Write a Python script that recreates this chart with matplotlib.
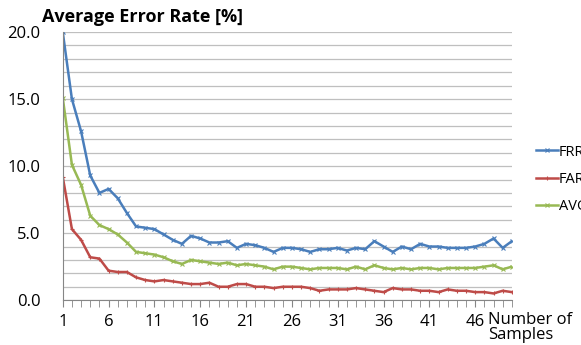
import matplotlib.pyplot as plt
import numpy as np

plt.rcParams['font.family'] = ['Open Sans', 'DejaVu Sans']

samples = np.arange(1, 51)  # number of samples 1..50

# error rates [%]
frr = [20.0, 15.0, 12.6, 9.3, 8.0, 8.3, 7.6, 6.5, 5.5, 5.4,
       5.3, 4.9, 4.5, 4.2, 4.8, 4.6, 4.3, 4.3, 4.4, 3.9,
       4.2, 4.1, 3.9, 3.6, 3.9, 3.9, 3.8, 3.6, 3.8, 3.8,
       3.9, 3.7, 3.9, 3.8, 4.4, 4.0, 3.6, 4.0, 3.8, 4.2,
       4.0, 4.0, 3.9, 3.9, 3.9, 4.0, 4.2, 4.6, 3.9, 4.4]
far = [9.2, 5.3, 4.5, 3.2, 3.1, 2.2, 2.1, 2.1, 1.7, 1.5,
       1.4, 1.5, 1.4, 1.3, 1.2, 1.2, 1.3, 1.0, 1.0, 1.2,
       1.2, 1.0, 1.0, 0.9, 1.0, 1.0, 1.0, 0.9, 0.7, 0.8,
       0.8, 0.8, 0.9, 0.8, 0.7, 0.6, 0.9, 0.8, 0.8, 0.7,
       0.7, 0.6, 0.8, 0.7, 0.7, 0.6, 0.6, 0.5, 0.7, 0.6]
avg = [15.1, 10.1, 8.6, 6.3, 5.6, 5.3, 4.9, 4.3, 3.6, 3.5,
       3.4, 3.2, 2.9, 2.7, 3.0, 2.9, 2.8, 2.7, 2.8, 2.6,
       2.7, 2.6, 2.5, 2.3, 2.5, 2.5, 2.4, 2.3, 2.4, 2.4,
       2.4, 2.3, 2.5, 2.3, 2.6, 2.4, 2.3, 2.4, 2.3, 2.4,
       2.4, 2.3, 2.4, 2.4, 2.4, 2.4, 2.5, 2.6, 2.3, 2.5]

fig = plt.figure(figsize=(5.81, 3.45), dpi=100)
ax = fig.add_axes([0.108, 0.13, 0.773, 0.777])

# Plot the three series
ax.plot(samples, frr, '-x', color='#4A7EBB', lw=1.8, ms=3.5, mew=0.8, label='FRR')
ax.plot(samples, far, '-+', color='#BE4B48', lw=1.8, ms=3.5, mew=0.8, label='FAR')
ax.plot(samples, avg, '-x', color='#98B954', lw=1.8, ms=3.5, mew=0.8, label='AVG')

# Axes styling
ax.set_xlim(1, 50)
ax.set_ylim(0, 20)
ax.set_yticks(np.arange(0, 21, 5))
ax.set_yticklabels([f'{v:.1f}' for v in np.arange(0, 21, 5)], fontsize=12)
ax.set_yticks(np.arange(0, 21, 1), minor=True)
ax.grid(True, axis='y', which='both', color='#BFBFBF', lw=0.9)
ax.set_axisbelow(True)
ax.set_xticks(np.arange(1, 50, 5))
ax.set_xticklabels([str(v) for v in np.arange(1, 50, 5)], fontsize=12)
ax.set_xticks(np.arange(1, 51, 1), minor=True)
ax.tick_params(axis='x', which='both', direction='out', length=5, color='#868686', pad=5)
ax.tick_params(axis='y', which='both', length=0, pad=16)
for s in ['top', 'right']:
    ax.spines[s].set_visible(False)
for s in ['left', 'bottom']:
    ax.spines[s].set_color('#868686')

# Title and axis label
fig.text(0.072, 0.925, 'Average Error Rate [%]', fontsize=13, fontweight='bold', ha='left', va='bottom')
fig.text(0.84, 0.005, 'Number of\nSamples', fontsize=12, ha='left', va='bottom', linespacing=0.95)

# Legend on the right
fig.legend(loc='center left', bbox_to_anchor=(0.91, 0.48), frameon=False, fontsize=10.5,
           handlelength=1.5, handletextpad=0.05, labelspacing=0.85, borderpad=0)

fig.savefig('out.png', dpi=100)
